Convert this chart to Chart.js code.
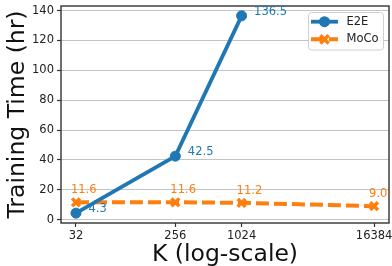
<!DOCTYPE html>
<html>
<head>
<meta charset="utf-8">
<script src="https://cdn.jsdelivr.net/npm/chart.js@4/dist/chart.umd.min.js"></script>
<style>
  html, body { margin: 0; padding: 0; background: #fff; }
</style>
</head>
<body>
<canvas id="trainChart" width="392" height="266"></canvas>
<script>
// data
const kTicks = [32, 256, 1024, 16384];
const e2eK = [32, 256, 1024];
const e2eHours = [4.3, 42.5, 136.5];
const mocoK = [32, 256, 1024, 16384];
const mocoHours = [11.6, 11.6, 11.2, 9.0];
const hourTicks = [0, 20, 40, 60, 80, 100, 120, 140];

const BLUE = "#1f77b4";
const ORANGE = "#ff7f0e";
const FONT = "DejaVu Sans";

// frame round the plot area (all four spines)
const framePlugin = {
  id: "frame",
  afterDatasetsDraw(chart) {
    const { ctx, chartArea: a } = chart;
    ctx.save();
    ctx.strokeStyle = "#333";
    ctx.lineWidth = 1.4;
    ctx.strokeRect(a.left, a.top, a.right - a.left, a.bottom - a.top);
    ctx.restore();
  },
};

// value labels next to each point
const valueLabels = {
  id: "valueLabels",
  afterDatasetsDraw(chart) {
    const { ctx } = chart;
    ctx.save();
    ctx.font = `11.5px "${FONT}"`;
    ctx.textBaseline = "middle";
    ctx.textAlign = "left";
    chart.data.datasets.forEach((ds, i) => {
      const meta = chart.getDatasetMeta(i);
      meta.data.forEach((pt, j) => {
        const v = ds.data[j].y;
        ctx.fillStyle = ds.borderColor;
        if (ds.label === "E2E") {
          ctx.fillText(v.toFixed(1), pt.x + 12.5, pt.y - 4);
        } else {
          ctx.fillText(v.toFixed(1), pt.x - 5, pt.y - 12);
        }
      });
    });
    ctx.restore();
  },
};

// matplotlib style legend: line + marker
const lineLegend = {
  id: "lineLegend",
  afterDraw(chart) {
    const { ctx } = chart;
    const x0 = 308.5, y0 = 12.5, w = 75, h = 37.5;
    ctx.save();
    ctx.fillStyle = "rgba(255,255,255,0.85)";
    ctx.strokeStyle = "#d0d0d0";
    ctx.lineWidth = 1;
    ctx.beginPath();
    ctx.roundRect(x0, y0, w, h, 3);
    ctx.fill();
    ctx.stroke();
    ctx.font = `11.5px "${FONT}"`;
    ctx.textBaseline = "middle";
    chart.data.datasets.forEach((ds, i) => {
      const y = 21.7 + i * 17.6;
      const lx0 = 311, lx1 = 338, cx = (lx0 + lx1) / 2;
      ctx.strokeStyle = ds.borderColor;
      ctx.lineWidth = ds.borderWidth;
      ctx.setLineDash(ds.borderDash || []);
      ctx.beginPath();
      ctx.moveTo(lx0, y);
      ctx.lineTo(lx1, y);
      ctx.stroke();
      ctx.setLineDash([]);
      if (ds.pointStyle === "circle") {
        ctx.fillStyle = ds.borderColor;
        ctx.beginPath();
        ctx.arc(cx, y, ds.pointRadius + 0.5, 0, Math.PI * 2);
        ctx.fill();
      } else {
        const r = ds.pointRadius * 0.75;
        ctx.lineWidth = ds.pointBorderWidth;
        ctx.beginPath();
        ctx.moveTo(cx - r, y - r); ctx.lineTo(cx + r, y + r);
        ctx.moveTo(cx + r, y - r); ctx.lineTo(cx - r, y + r);
        ctx.stroke();
      }
      ctx.fillStyle = "#222";
      ctx.fillText(ds.label, 346.5, y);
    });
    ctx.restore();
  },
};

new Chart(document.getElementById("trainChart"), {
  type: "line",
  data: {
    datasets: [
      {
        label: "E2E",
        data: e2eK.map((k, i) => ({ x: k, y: e2eHours[i] })),
        borderColor: BLUE,
        backgroundColor: BLUE,
        borderWidth: 3.8,
        pointStyle: "circle",
        pointRadius: 5,
        pointBorderWidth: 1,
        pointBackgroundColor: BLUE,
        tension: 0,
      },
      {
        label: "MoCo",
        data: mocoK.map((k, i) => ({ x: k, y: mocoHours[i] })),
        borderColor: ORANGE,
        backgroundColor: ORANGE,
        borderWidth: 4,
        borderDash: [13, 5],
        pointStyle: "crossRot",
        pointRadius: 5.5,
        pointBorderWidth: 3.5,
        tension: 0,
      },
    ],
  },
  options: {
    responsive: false,
    animation: false,
    devicePixelRatio: 1,
    layout: { autoPadding: false, padding: { top: 6, right: 3, left: 0, bottom: 0 } },
    plugins: {
      legend: { display: false },
      tooltip: { enabled: false },
    },
    scales: {
      x: {
        type: "logarithmic",
        min: 23.4,
        max: 22370,
        afterBuildTicks: (scale) => {
          scale.ticks = kTicks.map((v) => ({ value: v }));
        },
        afterFit: (scale) => {
          scale.height = 43;
          scale.paddingLeft = 0;
          scale.paddingRight = 0;
        },
        border: { display: false },
        grid: { drawOnChartArea: false, tickLength: 4, tickColor: "#333", tickWidth: 1.2 },
        ticks: {
          autoSkip: false,
          maxRotation: 0,
          padding: 2,
          color: "#222",
          font: { family: FONT, size: 11.5 },
          callback: (v) => String(v),
        },
        title: {
          display: true,
          text: "K (log-scale)",
          color: "#111",
          font: { family: FONT, size: 23.5, lineHeight: 0.93 },
          padding: 0,
        },
      },
      y: {
        min: -2.3,
        max: 143.1,
        afterBuildTicks: (scale) => {
          scale.ticks = hourTicks.map((v) => ({ value: v }));
        },
        afterFit: (scale) => {
          scale.width = 61;
          scale.paddingTop = 0;
          scale.paddingBottom = 0;
        },
        border: { display: false },
        grid: { color: "#c4c4c4", lineWidth: 1, tickLength: 4, tickColor: "#333", tickWidth: 1.2 },
        ticks: {
          padding: 3,
          color: "#222",
          font: { family: FONT, size: 11.5 },
        },
        title: {
          display: true,
          text: "Training Time (hr)",
          color: "#111",
          font: { family: FONT, size: 23.5, lineHeight: 1.2 },
          padding: { top: 4, bottom: 0 },
        },
      },
    },
  },
  plugins: [framePlugin, valueLabels, lineLegend],
});
</script>
</body>
</html>
